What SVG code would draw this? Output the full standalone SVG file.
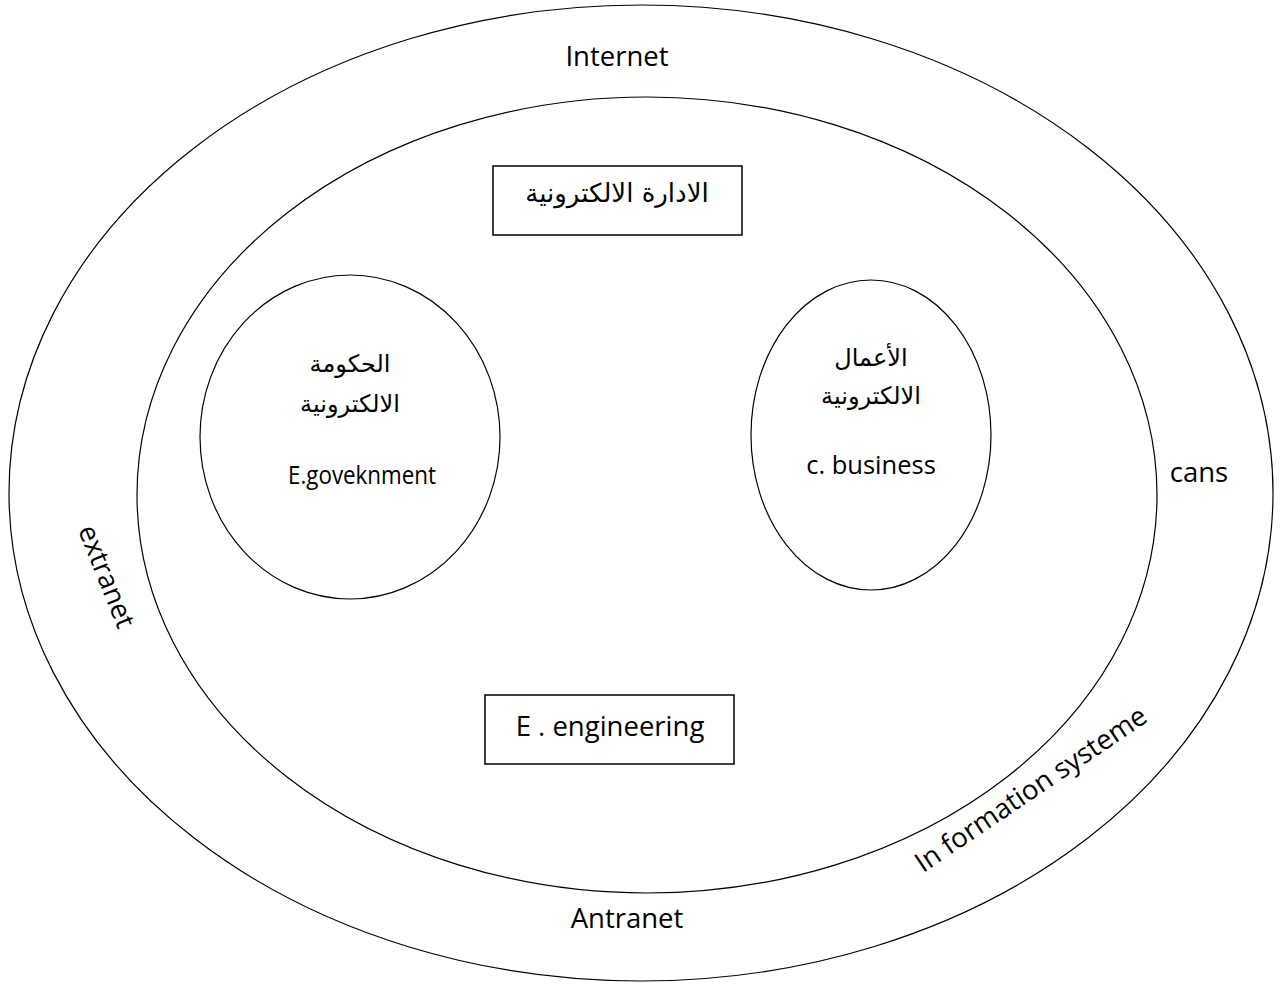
<svg xmlns="http://www.w3.org/2000/svg" width="1284" height="985" viewBox="0 0 1284 985">
  <style>
    .ring { fill: none; stroke: #000; stroke-width: 1.2; }
    .box { fill: #fff; stroke: #000; stroke-width: 1.5; }
    .lat { font-family: "Open Sans", "Noto Sans", sans-serif; font-size: 27.5px; fill: #000; text-anchor: middle; }
    .ar { font-family: "DejaVu Sans", "Noto Sans", sans-serif; font-size: 24px; fill: #000; text-anchor: middle; }
  </style>
  <rect width="1284" height="985" fill="#fff"/>

  <!-- outer ring: Internet -->
  <g id="internet">
    <ellipse class="ring" cx="641" cy="493" rx="632" ry="488"/>
    <text class="lat" x="617" y="66">Internet</text>
    <text class="lat" x="1199" y="482">cans</text>
    <text class="lat" x="627" y="928">Antranet</text>
    <text class="lat" transform="translate(98 580) rotate(68)">extranet</text>
    <text class="lat" transform="translate(1036 797) rotate(-34)">In formation systeme</text>
  </g>

  <!-- inner ring -->
  <g id="inner">
    <ellipse class="ring" cx="647" cy="495" rx="510" ry="398"/>
  </g>

  <g id="e-admin">
    <rect class="box" x="493" y="166" width="249" height="69"/>
    <text class="ar" x="617" y="202" style="font-size:26px">الادارة الالكترونية</text>
  </g>

  <g id="e-government">
    <ellipse class="ring" cx="350" cy="437" rx="150" ry="162"/>
    <text class="ar" x="350" y="372">الحكومة</text>
    <text class="ar" x="350" y="412">الالكترونية</text>
    <text class="lat" x="362" y="484" style="font-size:25px" textLength="148" lengthAdjust="spacingAndGlyphs">E.goveknment</text>
  </g>

  <g id="e-business">
    <ellipse class="ring" cx="871" cy="435" rx="120" ry="155"/>
    <text class="ar" x="871" y="366">الأعمال</text>
    <text class="ar" x="871" y="404">الالكترونية</text>
    <text class="lat" x="871" y="474" style="font-size:25.5px">c. business</text>
  </g>

  <g id="e-engineering">
    <rect class="box" x="485" y="695" width="249" height="69"/>
    <text class="lat" x="610" y="736">E . engineering</text>
  </g>
</svg>
